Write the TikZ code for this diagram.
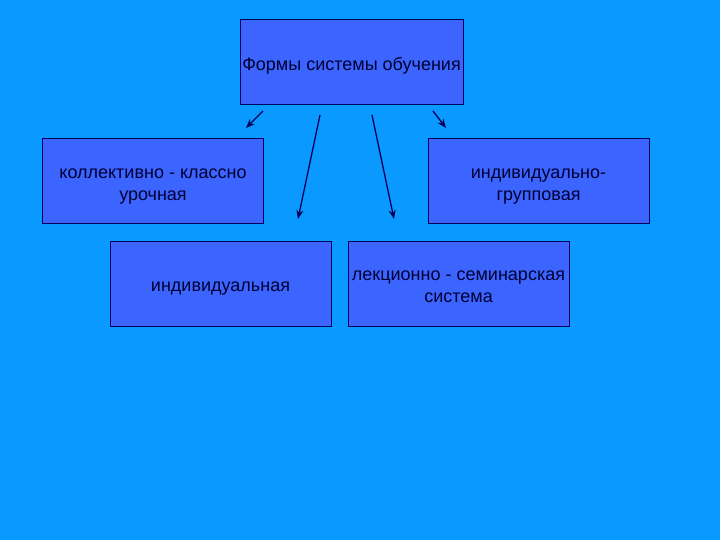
\documentclass[tikz,border=0pt]{standalone}
\usepackage{fontspec}
\setmainfont{Liberation Sans}
\usetikzlibrary{arrows.meta}
\definecolor{bg}{RGB}{10,153,255}
\definecolor{boxfill}{RGB}{60,100,255}
\definecolor{boxline}{RGB}{0,0,90}
\definecolor{txt}{RGB}{0,0,50}
\newcommand{\bxtext}[1]{\raisebox{-4pt}[\height][\depth]{\begin{tabular}{@{}c@{}}#1\end{tabular}}}
\tikzset{
  formbox/.style={draw=boxline, line width=1pt, fill=boxfill, text=txt,
    minimum width=221pt, minimum height=85pt, inner sep=0pt,
    font=\fontsize{18}{22}\selectfont},
  arr/.style={draw=boxline, line width=1.3pt, -{Stealth[length=9pt,width=7pt]}}
}
\begin{document}
\begin{tikzpicture}[x=1pt,y=-1pt]
\fill[bg] (0,0) rectangle (720,540);
\useasboundingbox (0,0) rectangle (720,540);
\node[formbox, minimum width=223pt] (top) at (351.5,62.5) {\bxtext{Формы системы обучения}};
\node[formbox] (kl) at (153,181) {\bxtext{коллективно - классно\\урочная}};
\node[formbox] (ig) at (538.5,181) {\bxtext{индивидуально-\\групповая}};
\node[formbox] (ind) at (220.5,283.5) {\bxtext{индивидуальная}};
\node[formbox] (lek) at (458.5,283.5) {\bxtext{лекционно - семинарская\\система}};
\coordinate (a1s) at (263,111); \coordinate (a1e) at (246,128);
\coordinate (a2s) at (320,115); \coordinate (a2e) at (298,219);
\coordinate (a3s) at (372,115); \coordinate (a3e) at (394,219);
\coordinate (a4s) at (433,111); \coordinate (a4e) at (446,128);
\draw[arr] (a1s) -- (a1e);
\draw[arr] (a2s) -- (a2e);
\draw[arr] (a3s) -- (a3e);
\draw[arr] (a4s) -- (a4e);
\end{tikzpicture}
\end{document}
